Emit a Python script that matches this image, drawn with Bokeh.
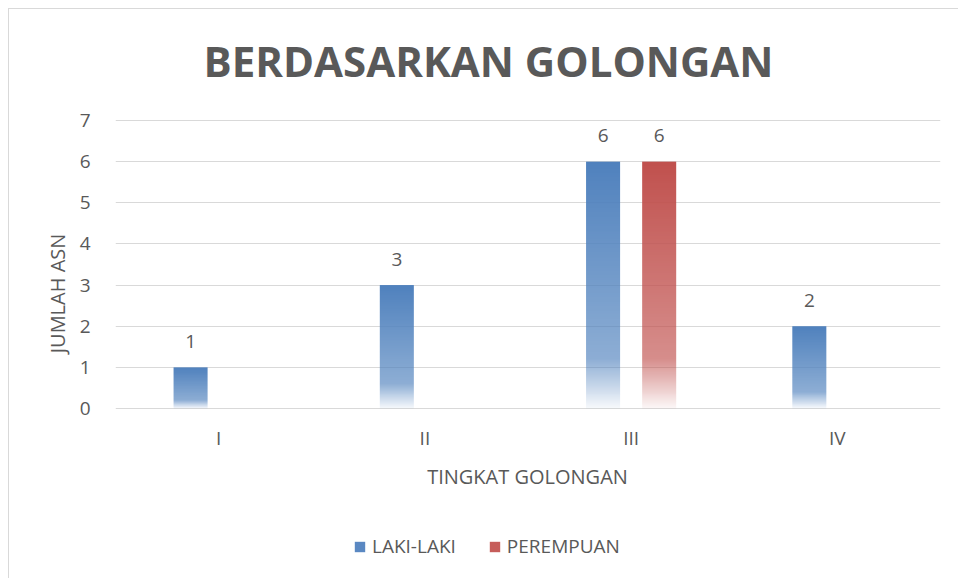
import numpy as np
from bokeh.plotting import figure
from bokeh.models import Range1d, Label, Legend, LegendItem, ColumnDataSource, FixedTicker
from bokeh.transform import dodge
from bokeh.embed import file_html
from bokeh.resources import INLINE
from bokeh.core.properties import value

# ---- data ----
categories = ["I", "II", "III", "IV"]
laki_laki = [1, 3, 6, 2]
perempuan = [0, 0, 6, 0]
series_names = ["LAKI-LAKI", "PEREMPUAN"]
y_ticks = [0, 1, 2, 3, 4, 5, 6, 7]
title_text = "BERDASARKAN GOLONGAN"
x_title = "TINGKAT GOLONGAN"
y_title = "JUMLAH ASN"

FONT = "Open Sans"
TXT = "#595959"
GRID = "#D9D9D9"
BLUE = (79, 129, 189)
RED = (192, 80, 77)

BAR_W = 0.165
OFFS = 0.136


def gradient(rgb, n=256):
    img = np.zeros((n, 1), dtype=np.uint32)
    view = img.view(dtype=np.uint8).reshape((n, 1, 4))
    for i in range(n):
        t = i / (n - 1)          # 0 = bottom, 1 = top
        d = 1.0 - t              # distance from top
        if d <= 0.8:
            a = 1.0 - (0.35 * d / 0.8)
        else:
            a = 0.65 - (0.60 * (d - 0.8) / 0.2)
        view[i, 0, 0] = rgb[0]
        view[i, 0, 1] = rgb[1]
        view[i, 0, 2] = rgb[2]
        view[i, 0, 3] = int(round(max(a, 0) * 255))
    return img


# layout: chart box starts at page (8, 8) with a 1px border; the plot frame spans
# the whole chart height; value axis 0..7 occupies 288px
W, H = 950, 570
MB_L, MB_T, MB_B = 106, 2, 4
FRAME_W = 825
PPU = 288 / 7.0                   # pixels per unit
ABOVE = 109                       # px above the 7-line inside the frame
BELOW = 167                       # px below the 0-line inside the frame
y_range = Range1d(-BELOW / PPU, 7 + ABOVE / PPU)

p = figure(width=W, height=H, x_range=categories, y_range=y_range,
           output_backend="svg", toolbar_location=None, x_axis_location=None,
           min_border_left=MB_L, min_border_right=W - MB_L - FRAME_W,
           min_border_top=MB_T, min_border_bottom=MB_B)
p.styles = {"margin-left": "8px", "margin-top": "8px",
            "border-top": "1px solid #D9D9D9", "border-left": "1px solid #D9D9D9"}
p.outline_line_color = None
p.background_fill_color = "white"
p.border_fill_color = "white"

p.xgrid.grid_line_color = None
p.ygrid.ticker = FixedTicker(ticks=y_ticks)
p.ygrid.grid_line_color = GRID
p.ygrid.grid_line_width = 1

p.yaxis.ticker = FixedTicker(ticks=y_ticks)
p.yaxis.axis_line_color = None
p.yaxis.major_tick_line_color = None
p.yaxis.minor_tick_line_color = None
p.yaxis.major_label_standoff = 19
p.yaxis.major_label_text_font = FONT
p.yaxis.major_label_text_font_size = "19px"
p.yaxis.major_label_text_color = TXT
p.yaxis.axis_label = y_title
p.yaxis.axis_label_standoff = 6
p.yaxis.axis_label_text_font = FONT
p.yaxis.axis_label_text_font_size = "20px"
p.yaxis.axis_label_text_font_style = "normal"
p.yaxis.axis_label_text_color = TXT

src = ColumnDataSource(dict(cat=categories, laki=laki_laki, perem=perempuan,
                            zero=[0] * len(categories),
                            img_l=[gradient(BLUE)] * len(categories),
                            img_p=[gradient(RED)] * len(categories),
                            lab_l=[str(v) if v else "" for v in laki_laki],
                            lab_p=[str(v) if v else "" for v in perempuan]))

# gradient bars
p.image_rgba(image="img_l", x=dodge("cat", -OFFS - BAR_W / 2, range=p.x_range), y=0,
             dw=BAR_W, dh="laki", source=src)
p.image_rgba(image="img_p", x=dodge("cat", OFFS - BAR_W / 2, range=p.x_range), y=0,
             dw=BAR_W, dh="perem", source=src)

# zero-width bar renderers of the same data: only used for the legend swatches
r1 = p.vbar(x=dodge("cat", -OFFS, range=p.x_range), top="laki", width=0, source=src,
            fill_color="#5A88C2", line_color=None)
r2 = p.vbar(x=dodge("cat", OFFS, range=p.x_range), top="perem", width=0, source=src,
            fill_color="#C65D5A", line_color=None)

# category labels (x axis)
p.text(x="cat", y="zero", text="cat", source=src, text_align="center",
       text_baseline="middle", y_offset=29, text_font=value(FONT),
       text_font_size="19px", text_color=TXT)

# data labels
for col, lab, off in (("laki", "lab_l", -OFFS), ("perem", "lab_p", OFFS)):
    p.text(x=dodge("cat", off, range=p.x_range), y=col, text=lab, source=src,
           text_align="center", text_baseline="middle", y_offset=-26,
           text_font=value(FONT), text_font_size="19px", text_color=TXT)

legend = Legend(items=[LegendItem(label=series_names[0], renderers=[r1], index=0),
                       LegendItem(label=series_names[1], renderers=[r2], index=0)],
                orientation="horizontal", location=(238, 16),
                border_line_color=None, background_fill_alpha=0,
                padding=0, margin=0, spacing=32, label_standoff=6,
                glyph_width=13, glyph_height=13,
                label_text_font=FONT, label_text_font_size="19px",
                label_text_color=TXT)
p.add_layout(legend, "center")

FRAME_H = 288 + ABOVE + BELOW
FRAME_TOP = 120 - ABOVE           # page y of frame top
p.add_layout(Label(x=373, y=FRAME_H - (60 - FRAME_TOP), x_units="screen", y_units="screen",
                   text=title_text, text_align="center", text_baseline="middle",
                   text_font=FONT, text_font_size="42px",
                   text_font_style="bold", text_color=TXT))
p.add_layout(Label(x=412, y=BELOW - (476 - 408), x_units="screen", y_units="screen",
                   text=x_title, text_align="center", text_baseline="middle",
                   text_font=FONT, text_font_size="20px", text_color=TXT))

open("out.html", "w").write(file_html(p, INLINE))
